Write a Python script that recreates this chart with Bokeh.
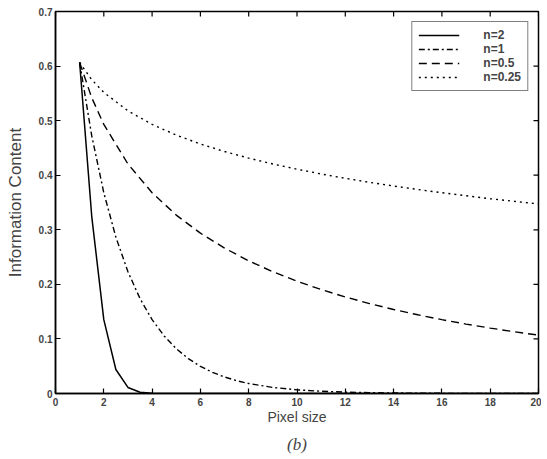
import math
from bokeh.plotting import figure
from bokeh.models import Legend, LegendItem, Title, FixedTicker, Range1d
from bokeh.embed import file_html
from bokeh.resources import INLINE

# Data
x_n2 = [1, 1.5, 2, 2.5, 3, 3.5, 4, 5, 6, 8, 10, 12, 14, 16, 18, 20]
y_n2 = [0.6065, 0.3247, 0.1353, 0.0439, 0.0111, 0.0022, 0.0003, 0, 0, 0, 0, 0, 0, 0, 0, 0]

x_n1 = [1, 1.5, 2, 2.5, 3, 3.5, 4, 4.5, 5, 5.5, 6, 6.5, 7, 7.5, 8, 9, 10, 11, 12, 13, 14, 15, 16, 18, 20]
y_n1 = [0.6065, 0.4724, 0.3679, 0.2865, 0.2231, 0.1738, 0.1353, 0.1054, 0.0821, 0.0639,
        0.0498, 0.0388, 0.0302, 0.0235, 0.0183, 0.0111, 0.0067, 0.0041, 0.0025, 0.0015,
        0.0009, 0.0006, 0.0003, 0.0001, 0.0]

x_n05 = [1, 1.5, 2, 3, 4, 5, 6, 7, 8, 9, 10, 11, 12, 13, 14, 15, 16, 17, 18, 19, 20]
y_n05 = [0.6065, 0.5421, 0.4931, 0.4206, 0.3679, 0.3269, 0.2938, 0.2664, 0.2431, 0.2231,
         0.2058, 0.1905, 0.1769, 0.1648, 0.1540, 0.1442, 0.1353, 0.1272, 0.1199, 0.1131, 0.1069]

x_n025 = [1, 1.5, 2, 3, 4, 5, 6, 7, 8, 9, 10, 11, 12, 13, 14, 15, 16, 17, 18, 19, 20]
y_n025 = [0.6065, 0.5750, 0.5518, 0.5179, 0.4931, 0.4735, 0.4572, 0.4434, 0.4313, 0.4206,
          0.4110, 0.4023, 0.3943, 0.3870, 0.3802, 0.3738, 0.3679, 0.3623, 0.3570, 0.3521, 0.3474]

labels = ["n=2", "n=1", "n=0.5", "n=0.25"]
x_ticks = [0, 2, 4, 6, 8, 10, 12, 14, 16, 18, 20]
y_ticks = [0, 0.1, 0.2, 0.3, 0.4, 0.5, 0.6, 0.7]
x_min, x_max = 0, 20
y_min, y_max = 0, 0.7
caption = "(b)"

FONT = "Liberation Sans"

p = figure(width=541, height=459, output_backend="svg", toolbar_location=None,
           x_range=Range1d(x_min, x_max), y_range=Range1d(y_min, y_max),
           min_border_left=55, min_border_right=3, min_border_top=11, min_border_bottom=66)
p.grid.visible = False
p.outline_line_color = "black"
p.outline_line_width = 1.5
p.background_fill_color = "white"
p.border_fill_color = "white"

r1 = p.line(x_n2, y_n2, line_color="black", line_width=1.5)
r2 = p.line(x_n1, y_n1, line_color="black", line_width=1.4, line_dash="6 3 2 3")
r3 = p.line(x_n05, y_n05, line_color="black", line_width=1.4, line_dash="8 5")
r4 = p.line(x_n025, y_n025, line_color="black", line_width=1.4, line_dash="2 4")

# inward ticks on the top and right edges (clipped to the frame)
p.scatter(x_ticks, [y_max] * len(x_ticks), marker="dash", size=10, angle=math.pi / 2,
          line_color="black", line_width=1.2)
p.scatter([x_max] * len(y_ticks), y_ticks, marker="dash", size=10,
          line_color="black", line_width=1.2)

for ax in (p.xaxis[0], p.yaxis[0]):
    ax.major_tick_in = 5
    ax.major_tick_out = 0
    ax.minor_tick_line_color = None
    ax.axis_line_width = 1.5
    ax.major_tick_line_width = 1.2
    ax.major_label_text_font = FONT
    ax.major_label_text_font_style = "bold"
    ax.major_label_text_font_size = "10px"
    ax.axis_label_text_font = FONT
    ax.axis_label_text_font_style = "normal"

p.xaxis.ticker = FixedTicker(ticks=x_ticks)
p.yaxis.ticker = FixedTicker(ticks=y_ticks)
p.xaxis.major_label_standoff = 4
p.yaxis.major_label_standoff = 3
p.xaxis.axis_label = "Pixel size"
p.yaxis.axis_label = "Information Content"
p.xaxis.axis_label_text_font_size = "14px"
p.yaxis.axis_label_text_font_size = "17px"
p.xaxis.axis_label_standoff = 0
p.yaxis.axis_label_standoff = 11

legend = Legend(items=[LegendItem(label=l, renderers=[r]) for l, r in zip(labels, [r1, r2, r3, r4])],
                location="top_right")
legend.label_text_font = FONT
legend.label_text_font_style = "bold"
legend.label_text_font_size = "12px"
legend.glyph_width = 41
legend.glyph_height = 12
legend.label_height = 12
legend.spacing = -2
legend.padding = 6
legend.margin = 10
legend.label_standoff = 24
legend.border_line_color = "black"
legend.border_line_width = 1.3
legend.background_fill_alpha = 1.0
p.add_layout(legend)

cap = Title(text=caption, align="center", text_font="Liberation Serif",
            text_font_style="italic", text_font_size="17px", standoff=11)
p.add_layout(cap, "below")

open("out.html", "w").write(file_html(p, INLINE))
